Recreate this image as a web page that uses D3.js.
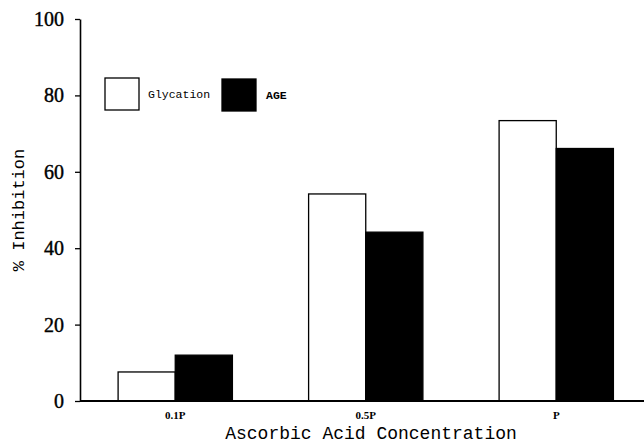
<!DOCTYPE html>
<html>
<head>
<meta charset="utf-8">
<script src="https://cdn.jsdelivr.net/npm/d3@7"></script>
<style>
  body { margin: 0; background: #fff; }
  svg { display: block; }
  .tick text { font-family: 'Liberation Serif', serif; font-size: 20px; fill: #000; stroke: #000; stroke-width: 0.4; }
  .mono { font-family: 'Liberation Mono', 'DejaVu Sans Mono', monospace; fill: #000; }
  .cat { font-family: 'Liberation Serif', serif; font-weight: bold; font-size: 11px; fill: #000; }
</style>
</head>
<body>
<svg width="644" height="445"></svg>
<script>
const categories = ['0.1P', '0.5P', 'P']
const seriesNames = ['Glycation', 'AGE']
const glycation = [7.6, 54.2, 73.4]
const age = [12.0, 44.2, 66.1]
const yTicks = [0, 20, 40, 60, 80, 100]
const fills = { Glycation: '#fff', AGE: '#000' }

const svg = d3.select('svg')

const y = d3.scaleLinear().domain([0, 100]).range([401, 19])

const x = d3.scaleBand()
  .domain(categories)
  .range([80, 651.5])
  .paddingInner(0.4)
  .paddingOuter(0.2)

const xs = d3.scaleBand()
  .domain(seriesNames)
  .range([0, x.bandwidth()])

const rows = categories.map((c, i) => ({ cat: c, values: [
  { name: 'Glycation', value: glycation[i] },
  { name: 'AGE', value: age[i] }
] }))

// bars
const groups = svg.append('g')
  .selectAll('g')
  .data(rows)
  .join('g')
  .attr('transform', d => `translate(${x(d.cat)},0)`)

groups.selectAll('rect')
  .data(d => d.values)
  .join('rect')
  .attr('x', d => xs(d.name))
  .attr('y', d => y(d.value))
  .attr('width', xs.bandwidth())
  .attr('height', d => y(0) - y(d.value))
  .attr('fill', d => fills[d.name])
  .attr('stroke', '#000')
  .attr('stroke-width', 1.3)

// y axis
const yAxis = svg.append('g')
  .attr('transform', 'translate(80,0)')
  .call(d3.axisLeft(y).tickValues(yTicks).tickSize(5).tickSizeOuter(0).tickPadding(11))
yAxis.select('.domain').attr('stroke-width', 1.6)
yAxis.selectAll('.tick line').attr('stroke-width', 1.3)

// x axis baseline
svg.append('line')
  .attr('x1', 80).attr('x2', 644)
  .attr('y1', y(0)).attr('y2', y(0))
  .attr('stroke', '#000')
  .attr('stroke-width', 1.8)

svg.append('g')
  .selectAll('text')
  .data(categories)
  .join('text')
  .attr('class', 'cat')
  .attr('x', d => x(d) + x.bandwidth() / 2)
  .attr('y', 419)
  .attr('text-anchor', 'middle')
  .text(d => d)

// axis titles
svg.append('text')
  .attr('class', 'mono')
  .attr('x', 371)
  .attr('y', 439)
  .attr('text-anchor', 'middle')
  .attr('font-size', 18)
  .text('Ascorbic Acid Concentration')

svg.append('text')
  .attr('class', 'mono')
  .attr('transform', 'translate(24,210) rotate(-90)')
  .attr('text-anchor', 'middle')
  .attr('font-size', 17)
  .text('% Inhibition')

// legend
const legend = svg.append('g')
const legendPos = [{ x: 105, y: 78, tx: 148 }, { x: 222, y: 79, tx: 266 }]
seriesNames.forEach((s, i) => {
  const p = legendPos[i]
  legend.append('rect')
    .attr('x', p.x).attr('y', p.y)
    .attr('width', 34).attr('height', 32)
    .attr('fill', fills[s])
    .attr('stroke', '#000')
    .attr('stroke-width', 1.3)
  legend.append('text')
    .attr('class', 'mono')
    .attr('x', p.tx)
    .attr('y', p.y + 20)
    .attr('font-size', 11.5)
    .attr('font-weight', s === 'AGE' ? 'bold' : 'normal')
    .text(s)
})
</script>
</body>
</html>
